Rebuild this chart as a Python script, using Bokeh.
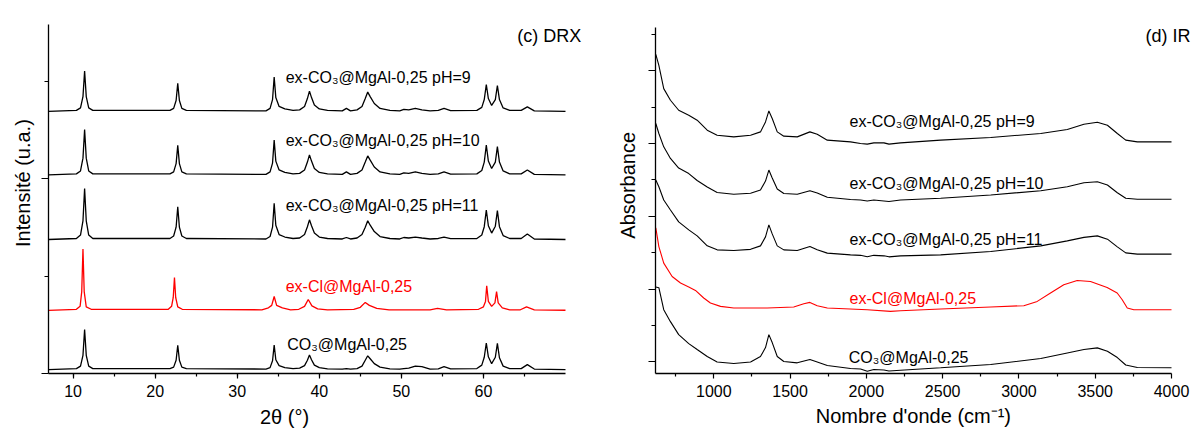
from bokeh.plotting import figure
from bokeh.layouts import row
from bokeh.models import FixedTicker, Label, Title
from bokeh.embed import file_html
from bokeh.resources import INLINE

FONT = "Liberation Sans"

# ---------------- (c) DRX data (intensity above each pattern's baseline, a.u.) ----------------
two_theta = [7.0, 10.4, 10.9, 11.2, 11.4, 11.6, 11.9, 12.4,
             21.8, 22.25, 22.55, 22.75, 22.95, 23.25, 23.8,
             33.5, 34.0, 34.3, 34.5, 34.7, 35.1, 35.8, 36.8,
             37.6, 38.2, 38.55, 38.8, 39.05, 39.4, 40.0, 41.0,
             42.8, 43.3, 43.8,
             44.6, 45.2, 45.6, 45.9, 46.2, 46.7, 47.4, 48.6,
             49.8, 50.3, 50.9, 51.7, 52.5, 53.5,
             54.5, 55.2, 56.0,
             59.2, 59.8, 60.1, 60.35, 60.6, 61.0, 61.45, 61.7, 61.95, 62.4, 63.2,
             64.6, 65.35, 66.2,
             70.0]
xrd_ph9 = [0, 1, 3.5, 15, 41, 15, 3.5, 1,
           1, 3, 11, 28.5, 11, 3, 1,
           0.5, 3, 12, 35, 14, 5, 2.5, 1,
           1.5, 5, 13, 20.6, 14, 6.5, 2.5, 1,
           0.5, 3, 0.5,
           1.5, 5, 13, 19.6, 15, 8, 3, 1,
           0.5, 2, 1.5, 3, 1.5, 0.5,
           1, 3, 0.8,
           1, 4, 12, 27.3, 13, 6, 12, 26.3, 12, 3.5, 1,
           1, 4.5, 0.5,
           0]
xrd_ph10 = [0, 1, 4, 17, 46, 17, 4, 1,
            1, 3, 11.5, 30, 11.5, 3, 1,
            0.5, 3, 12, 35.3, 14, 5, 2.5, 1,
            1.5, 5, 13, 20.3, 14, 6.5, 2.5, 1,
            0.5, 3, 0.5,
            1.5, 5, 13, 19.3, 15, 8, 3, 1,
            0.5, 2, 1.5, 3, 1.5, 0.5,
            1, 3, 0.8,
            1, 4.5, 13, 30.4, 14, 6.5, 13, 28.7, 13, 4, 1,
            1, 5, 0.5,
            0]
xrd_ph11 = [0, 1, 4.5, 19, 51.7, 19, 4.5, 1,
            1, 3.5, 12.5, 33.3, 12.5, 3.5, 1,
            0.5, 3, 12.5, 36.7, 14.5, 5, 2.5, 1,
            1.5, 5, 13, 20, 14, 6.5, 2.5, 1,
            0.5, 2, 0.5,
            1.5, 5, 12.5, 19, 14.5, 8, 3, 1,
            0.5, 2, 1.5, 2.5, 1.5, 0.5,
            1, 2.5, 0.8,
            1, 4.5, 13, 30, 14, 6.5, 13.5, 29.3, 13, 4, 1,
            1, 5.5, 0.5,
            0]
xrd_co3 = [0, 1, 3.5, 14.5, 40.7, 14.5, 3.5, 1,
           1, 2.5, 9.5, 24.7, 9.5, 2.5, 1,
           0.5, 2, 9, 25, 10, 4, 2, 1,
           1.5, 4, 9.5, 14.8, 10, 4.5, 2, 0.8,
           0.5, 1, 0.5,
           1, 3.5, 9.5, 14, 11, 6, 2.5, 0.8,
           0.5, 1, 1.5, 3.5, 3, 0.5,
           0.8, 3, 0.8,
           1, 4.5, 12.5, 27, 13, 6, 12.5, 26.7, 12, 3.5, 1,
           1, 5, 0.5,
           0]
two_theta_cl = [7.0, 10.4, 10.85, 11.05, 11.2, 11.35, 11.6, 12.2,
                21.6, 22.0, 22.2, 22.35, 22.5, 22.75, 23.3,
                33.0, 33.8, 34.2, 34.5, 34.8, 35.5, 36.5,
                37.5, 38.2, 38.65, 39.1, 39.8, 41.0,
                44.2, 45.0, 45.6, 46.1, 47.0, 48.5,
                53.5, 54.4, 55.5,
                59.4, 60.0, 60.25, 60.4, 60.6, 61.0, 61.4, 61.6, 61.8, 62.3, 63.2,
                64.5, 65.25, 66.2,
                70.0]
xrd_cl = [0, 1, 4, 19, 62.3, 19, 3.5, 1,
          1, 4, 13, 33.3, 13, 3.5, 1,
          0.5, 2.5, 5, 14, 5, 2.5, 0.5,
          1, 4, 11, 4.5, 1.5, 0.5,
          1, 3, 8, 5, 2, 0.5,
          0.5, 2, 0.5,
          1, 3.5, 9, 25, 9, 4, 7.5, 19, 7.5, 2.5, 0.5,
          0.5, 3.5, 0.5,
          0]

sample_names = ["ex-CO\u2083@MgAl-0,25 pH=9", "ex-CO\u2083@MgAl-0,25 pH=10",
                "ex-CO\u2083@MgAl-0,25 pH=11", "ex-Cl@MgAl-0,25", "CO\u2083@MgAl-0,25"]

# ---------------- (d) IR data (stacked absorbance, a.u.) ----------------
wavenumber = [620, 640, 672, 716, 770, 836, 891, 957, 1022, 1131, 1241, 1306, 1339, 1361,
              1383, 1416, 1459, 1547, 1630, 1678, 1744, 1896, 1962, 2006, 2049, 2115, 2148,
              2224, 2487, 2815, 3143, 3317, 3426, 3514, 3580, 3645, 3700, 3776, 4000]
ir_ph9 = [320, 309, 285.7, 274, 264, 259, 254, 244, 239, 237.3, 239, 242.3, 252.3, 263.3,
          255.7, 242.3, 238, 237.3, 242.3, 240, 234, 232.3, 230.7, 230, 231.3, 231.3, 230,
          231.3, 234, 236.7, 240.7, 244.7, 250, 252, 249, 240.7, 234, 232.3, 232.3]
ir_ph10 = [250.7, 240.7, 227.3, 215.7, 206, 200.5, 193.5, 187, 181.5, 179.7, 180.7, 184, 193, 204,
           196, 185, 180.5, 179.7, 183.3, 181, 176.7, 174.5, 174, 173, 174, 173, 172.5,
           174, 175.7, 179, 183.3, 187.3, 191.3, 192.3, 189, 181.3, 175.7, 174.7, 174.7]
ir_ph11 = [194, 187.3, 174, 164, 152, 144, 138, 128, 124, 123.3, 124.5, 128, 137, 149,
           140, 128, 124, 123.3, 127.3, 124, 120.7, 119, 118.5, 117, 118.5, 118, 117,
           118, 119, 122.3, 128, 133, 136.5, 138, 134.7, 127, 121, 119.7, 119.7]
ir_co3 = [86.7, 86, 64, 52, 39, 30, 24, 17, 11.5, 10, 11.5, 17, 26, 39,
          31, 17, 12, 10.7, 14, 11.5, 8, 5, 4.5, 2.3, 4, 3.5, 2.5,
          3.3, 5.7, 9, 15, 20.5, 24, 25.7, 22.3, 16, 8.5, 6, 5.7]
wavenumber_cl = [620, 640, 672, 727, 782, 836, 880, 934, 978, 1044, 1131, 1350, 1524, 1590,
                 1630, 1678, 1744, 2006, 2158, 2224, 2487, 2815, 3032, 3120, 3207, 3294,
                 3382, 3469, 3578, 3644, 3677, 3710, 3753, 4000]
ir_cl = [146, 127.3, 110.7, 97.3, 90.7, 86.7, 83.3, 75.7, 70.7, 67.3, 65.7, 65.7, 66.7, 70,
         71.3, 68, 65.7, 64, 62.3, 63, 64.7, 66.7, 68, 72.3, 80.7, 89,
         93.3, 92.3, 86.3, 80.7, 74, 65.7, 64, 64]

# ---------------- layout / style ----------------
BLACK = "#000000"
RED = "#FF0000"
colors = [BLACK, BLACK, BLACK, RED, BLACK]
xrd_baselines = [266.6, 202, 136.3, 64.3, 4]
xrd_label_x = [35.9, 35.9, 35.9, 35.9, 36.1]
xrd_label_y = [301.3, 237.1, 171.3, 88.4, 29.3]
ir_label_x = [1890, 1890, 1890, 1890, 1885]
ir_label_y = [253, 190.7, 134, 75.5, 16]


def style(p, y_major):
    p.grid.visible = False
    p.outline_line_color = None
    p.background_fill_color = "white"
    p.border_fill_color = "white"
    for ax in (p.xaxis[0], p.yaxis[0]):
        ax.axis_line_color = BLACK
        ax.axis_line_width = 1.3
        ax.major_tick_line_color = BLACK
        ax.minor_tick_line_color = BLACK
        ax.major_tick_line_width = 1.2
        ax.minor_tick_line_width = 1.2
        ax.major_tick_in = 0
        ax.minor_tick_in = 0
        ax.major_label_text_font = FONT
        ax.major_label_text_color = BLACK
        ax.major_label_text_font_size = "16px"
    p.xaxis.major_tick_out = 5
    p.xaxis.minor_tick_out = 3
    p.xaxis.major_label_standoff = 6
    p.yaxis.major_tick_out = 7
    p.yaxis.minor_tick_out = 4
    p.yaxis.major_label_overrides = {t: "" for t in y_major}
    p.yaxis.major_label_standoff = 0


def add_label(p, x, y, text, size="16px", color=BLACK):
    p.add_layout(Label(x=x, y=y, text=text, text_font=FONT, text_font_size=size,
                       text_color=color, text_align="left", text_baseline="alphabetic"))


def add_title(p, text, side, offset, standoff):
    p.add_layout(Title(text=text, align="left", offset=offset, standoff=standoff,
                       text_font=FONT, text_font_size="20px", text_font_style="normal",
                       text_color=BLACK), side)


# ---------------- left: DRX ----------------
xrd_y_major = [0, 198]
p1 = figure(width=598, height=435, x_range=(7, 73.29), y_range=(0, 359),
            output_backend="svg", toolbar_location=None,
            min_border_left=48, min_border_right=6, min_border_top=14, min_border_bottom=62)
style(p1, xrd_y_major)
p1.xaxis.bounds = (7, 70)
p1.yaxis.bounds = (0, 355)
p1.xaxis.ticker = FixedTicker(ticks=[10, 20, 30, 40, 50, 60],
                              minor_ticks=[10, 15, 20, 25, 30, 35, 40, 45, 50, 55, 60, 65])
p1.yaxis.ticker = FixedTicker(ticks=xrd_y_major, minor_ticks=[99, 297])

xrd_series = [(two_theta, xrd_ph9), (two_theta, xrd_ph10), (two_theta, xrd_ph11),
              (two_theta_cl, xrd_cl), (two_theta, xrd_co3)]
for (xs, ys), base, col in zip(xrd_series, xrd_baselines, colors):
    p1.line(xs, [base + v for v in ys], line_color=col, line_width=1.3)
for name, lx, ly, col in zip(sample_names, xrd_label_x, xrd_label_y, colors):
    add_label(p1, lx, ly, name, color=col)
add_label(p1, 64.12, 343.3, "(c) DRX", size="18px")
add_title(p1, "Intensité (u.a.)", "left", offset=126.5, standoff=16)
add_title(p1, "2\u03b8 (\u00b0)", "below", offset=211.5, standoff=8)

# ---------------- right: IR ----------------
ir_y_major = [11.7, 84.7, 157.7, 230.7, 303.7]
p2 = figure(width=597, height=435, x_range=(618, 4150.7), y_range=(0, 354),
            output_backend="svg", toolbar_location=None,
            min_border_left=57, min_border_right=1, min_border_top=20, min_border_bottom=61)
style(p2, ir_y_major)
p2.xaxis.bounds = (618, 4000)
p2.yaxis.bounds = (0, 347.3)
p2.xaxis.ticker = FixedTicker(ticks=[1000, 1500, 2000, 2500, 3000, 3500, 4000],
                              minor_ticks=[750, 1250, 1750, 2250, 2750, 3250, 3750])
p2.yaxis.ticker = FixedTicker(ticks=ir_y_major,
                              minor_ticks=[48.2, 121.2, 194.2, 267.2, 340.2])

ir_series = [(wavenumber, ir_ph9), (wavenumber, ir_ph10), (wavenumber, ir_ph11),
             (wavenumber_cl, ir_cl), (wavenumber, ir_co3)]
for (xs, ys), col in zip(ir_series, colors):
    p2.line(xs, ys, line_color=col, line_width=1.1)
for name, lx, ly, col in zip(sample_names, ir_label_x, ir_label_y, colors):
    add_label(p2, lx, ly, name, color=col)
add_label(p2, 3830, 338.5, "(d) IR", size="18px")
add_title(p2, "Absorbance", "left", offset=134.8, standoff=20)
add_title(p2, "Nombre d'onde (cm\u207b\u00b9)", "below", offset=160.2, standoff=7)

layout = row(p1, p2)
open("out.html", "w").write(file_html(layout, INLINE))
